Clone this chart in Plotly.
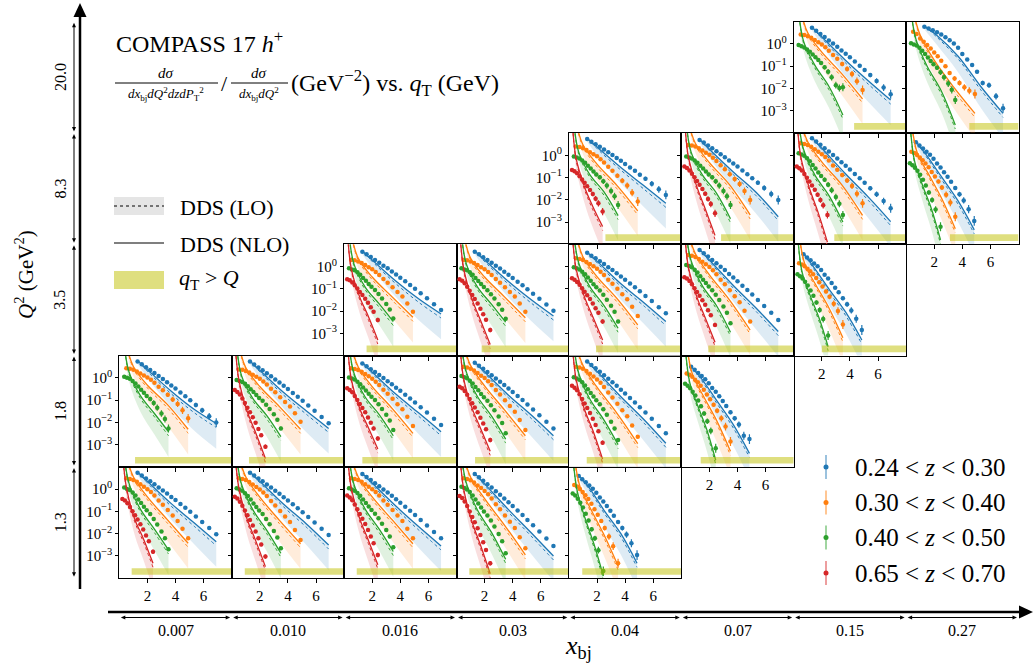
import plotly.graph_objects as go

FONT = "Liberation Serif, Times New Roman, serif"
W, H = 1034, 664

# ---------------- axis labels ----------------
Q2_LABELS = ["20.0", "8.3", "3.5", "1.8", "1.3"]
XBJ_LABELS = ["0.007", "0.010", "0.016", "0.03", "0.04", "0.07", "0.15", "0.27"]
Z_LABELS = ["0.24 < <i>z</i> < 0.30", "0.30 < <i>z</i> < 0.40",
            "0.40 < <i>z</i> < 0.50", "0.65 < <i>z</i> < 0.70"]

# ---------------- qT grids of the data points ----------------
QB = [1.3, 1.6, 1.9, 2.2, 2.5, 2.8, 3.1, 3.4, 3.7, 4.0, 4.35, 4.7, 5.05, 5.45, 5.9, 6.4, 6.9]
QO = [0.5, 0.75, 1.0, 1.25, 1.5, 1.75, 2.0, 2.25, 2.5, 2.8, 3.1, 3.45, 3.8, 4.15, 4.5, 4.9]
QG = [0.35, 0.55, 0.75, 0.95, 1.15, 1.35, 1.55, 1.75, 1.95, 2.2, 2.45, 2.7, 3.0, 3.25, 3.5]
QR = [0.22, 0.4, 0.58, 0.76, 0.94, 1.12, 1.3, 1.5, 1.7, 1.9, 2.1, 2.4]
QB2 = [0.7, 0.95, 1.2, 1.45, 1.7, 1.95, 2.2, 2.45, 2.7, 2.95, 3.2, 3.5, 3.8, 4.1, 4.45, 4.85]
QO2 = [0.38, 0.58, 0.78, 0.98, 1.18, 1.38, 1.6, 1.82, 2.05, 2.3, 2.55, 2.85, 3.15, 3.5]
QG2 = [0.27, 0.45, 0.63, 0.81, 1.0, 1.2, 1.4, 1.62, 1.85, 2.1, 2.45]

# qT knots of the theory curves
KB = [1.3, 2.2, 3.7, 5.3, 6.9]
KO = [0.5, 1.0, 2.0, 3.4, 4.9]
KG = [0.35, 0.7, 1.5, 2.5, 3.5]
KR = [0.22, 0.5, 1.1, 1.7, 2.4]
KB2 = [0.7, 1.4, 2.5, 3.7, 4.85]
KO2 = [0.38, 0.8, 1.6, 2.5, 3.5]
KG2 = [0.27, 0.6, 1.2, 1.8, 2.45]

# LO relative to NLO and LO band depth (log10 units, at knots)
LO_SHIFT = [0.0, 0.08, 0.12, 0.15, 0.18]
BAND_DEPTH = [0.15, 0.35, 0.6, 0.8, 0.95]

# error bars (log10 half widths)
ERR_B_TOP = [.02, .02, .02, .02, .02, .03, .03, .03, .04, .05, .06, .07, .08, .10, .12, .15, .20]
ERR_O_TOP = [.02, .02, .02, .02, .03, .03, .03, .04, .05, .06, .08, .10, .12, .14, .16, .20]
ERR_G_TOP = [.02, .02, .03, .03, .04, .05, .06, .07, .08, .10, .12, .14, .15, .16, .18]
ERR_R_TOP = [.02, .02, .03, .04, .05, .06, .07, .08, .10, .12, .14, .16]
ERR_B_LOW = [.01, .01, .01, .01, .01, .01, .01, .01, .02, .02, .02, .02, .03, .03, .04, .05, .06]
ERR_O_LOW = [.01, .01, .01, .01, .01, .01, .02, .02, .02, .02, .03, .03, .04, .05, .06, .07]
ERR_G_LOW = [.01, .01, .01, .01, .02, .02, .02, .02, .03, .03, .04, .05, .06, .07, .08]
ERR_R_LOW = [.01, .02, .02, .02, .03, .03, .04, .04, .05, .06, .08, .10]
ERR_B2 = [.02, .02, .02, .02, .02, .03, .03, .04, .05, .06, .07, .09, .11, .14, .18, .22]
ERR_O2 = [.02, .02, .02, .03, .03, .04, .05, .06, .07, .09, .11, .14, .17, .20]
ERR_G2 = [.02, .03, .03, .04, .05, .06, .08, .10, .12, .15, .20]

# ---------------- panels: log10 values ----------------
R4C0 = dict(qcut=0.88,
    b=[.74, .61, .48, .35, .22, .08, -.06, -.20, -.35, -.49, -.67, -.84, -1.02, -1.23, -1.47, -1.75, -2.03],
    o=[.49, .46, .41, .33, .22, .11, .00, -.13, -.29, -.51, -.70, -.94, -1.18, -1.43, -1.78, -2.21],
    g=[.07, .01, -.04, -.15, -.29, -.46, -.62, -.79, -.95, -1.12, -1.34, -1.59, -1.90, -2.20, -2.70],
    r=[-.44, -.51, -.63, -.80, -.99, -1.17, -1.36, -1.58, -1.81, -2.08, -2.34, -2.81],
    nb=[.77, .23, -.65, -1.5, -2.36], no=[1.5, .56, -.35, -1.36, -2.43],
    ng=[1.5, .25, -.9, -1.8, -2.73], nr=[1.8, .1, -1.35, -2.2, -3.33])
R4C1 = dict(qcut=0.93,
    b=[.74, .61, .48, .35, .21, .07, -.07, -.21, -.36, -.51, -.68, -.86, -1.04, -1.25, -1.50, -1.78, -2.06],
    o=[.49, .46, .41, .32, .21, .10, -.01, -.15, -.31, -.53, -.73, -.98, -1.23, -1.48, -1.84, -2.28],
    g=[.04, -.01, -.07, -.18, -.31, -.47, -.64, -.80, -.96, -1.12, -1.34, -1.58, -1.88, -2.17, -2.66],
    r=[-.34, -.42, -.56, -.74, -.96, -1.17, -1.39, -1.63, -1.90, -2.20, -2.49, -3.03],
    nb=[.77, .23, -.68, -1.55, -2.51], no=[1.5, .56, -.36, -1.4, -2.45],
    ng=[1.5, .22, -.92, -1.85, -2.88], nr=[1.8, .1, -1.35, -2.3, -3.48])
R4C2 = dict(qcut=0.9,
    b=[.68, .55, .41, .27, .13, -.01, -.15, -.30, -.45, -.61, -.79, -.97, -1.16, -1.38, -1.63, -1.92, -2.21],
    o=[.49, .46, .41, .33, .22, .11, .00, -.13, -.29, -.51, -.70, -.94, -1.18, -1.43, -1.78, -2.21],
    g=[.04, -.01, -.07, -.17, -.30, -.46, -.62, -.78, -.94, -1.10, -1.31, -1.55, -1.84, -2.13, -2.61],
    r=[-.29, -.37, -.50, -.69, -.90, -1.12, -1.33, -1.57, -1.84, -2.13, -2.43, -2.96],
    nb=[.71, .15, -.77, -1.68, -2.55], no=[1.5, .56, -.35, -1.36, -2.45],
    ng=[1.5, .22, -.9, -1.8, -2.8], nr=[1.8, .1, -1.3, -2.25, -3.4])
R4C3 = dict(qcut=0.91,
    b=[.68, .53, .38, .22, .07, -.09, -.25, -.42, -.59, -.76, -.96, -1.16, -1.38, -1.62, -1.90, -2.22, -2.55],
    o=[.49, .46, .40, .30, .17, .05, -.08, -.23, -.42, -.68, -.90, -1.18, -1.46, -1.75, -2.16, -2.66],
    g=[.11, .05, -.01, -.13, -.28, -.46, -.64, -.82, -1.00, -1.18, -1.41, -1.68, -2.01, -2.34, -2.88],
    r=[-.31, -.40, -.55, -.76, -1.00, -1.25, -1.49, -1.76, -2.06, -2.39, -2.73, -3.33],
    nb=[.71, .10, -.92, -1.95, -3.0], no=[1.5, .55, -.43, -1.6, -2.95],
    ng=[1.5, .28, -.95, -1.95, -3.15], nr=[1.8, .05, -1.45, -2.5, -3.8])
R4C4 = dict(qcut=0.95,
    b=[.59, .45, .31, .16, .02, -.16, -.37, -.55, -.76, -.97, -1.19, -1.47, -1.75, -2.04, -2.43, -2.96],
    o=[.19, .12, .01, -.13, -.27, -.44, -.65, -.90, -1.15, -1.43, -1.75, -2.13, -2.56, -3.33],
    g=[-.19, -.29, -.43, -.61, -.82, -1.10, -1.41, -1.80, -2.21, -2.74, -3.68],
    nb=[.62, .1, -.95, -2.0, -3.33], no=[1.5, .1, -.95, -2.05, -3.45],
    ng=[1.5, -.1, -1.4, -2.5, -3.9])
R3C0 = dict(qcut=1.12,
    b=[.74, .61, .48, .35, .22, .08, -.05, -.20, -.34, -.48, -.66, -.83, -1.01, -1.22, -1.46, -1.73, -2.01],
    o=[.43, .41, .36, .29, .20, .11, .02, -.09, -.22, -.40, -.56, -.76, -.97, -1.17, -1.46, -1.82],
    g=[.05, .00, -.04, -.14, -.25, -.39, -.53, -.67, -.81, -.95, -1.13, -1.34, -1.60, -1.85, -2.27],
    nb=[.77, .25, -.6, -1.4, -2.05], no=[1.5, .51, -.33, -1.18, -2.31],
    ng=[1.5, .25, -.8, -1.6, -2.42])
R3C1 = dict(qcut=1.23,
    b=[.73, .60, .47, .34, .21, .07, -.07, -.21, -.36, -.50, -.68, -.85, -1.03, -1.24, -1.48, -1.76, -2.04],
    o=[.38, .36, .31, .24, .14, .05, -.04, -.16, -.30, -.49, -.65, -.87, -1.08, -1.29, -1.59, -1.97],
    g=[-.10, -.14, -.19, -.27, -.38, -.51, -.64, -.77, -.90, -1.03, -1.21, -1.40, -1.64, -1.88, -2.27],
    r=[-.55, -.63, -.75, -.93, -1.13, -1.34, -1.54, -1.77, -2.02, -2.30, -2.58, -3.09],
    nb=[.76, .22, -.66, -1.48, -2.27], no=[1.5, .46, -.39, -1.29, -2.31],
    ng=[1.5, .1, -.92, -1.7, -2.64], nr=[1.8, -.05, -1.5, -2.45, -3.62])
R3C2 = dict(qcut=1.3,
    b=[.65, .52, .39, .26, .13, -.01, -.15, -.29, -.44, -.58, -.76, -.93, -1.11, -1.32, -1.56, -1.84, -2.12],
    o=[.43, .40, .35, .27, .17, .07, -.04, -.17, -.32, -.53, -.71, -.94, -1.18, -1.41, -1.75, -2.16],
    g=[.02, -.03, -.07, -.17, -.29, -.43, -.57, -.71, -.85, -.99, -1.18, -1.40, -1.66, -1.92, -2.34],
    r=[-.47, -.54, -.65, -.81, -.99, -1.17, -1.35, -1.55, -1.78, -2.02, -2.27, -2.72],
    nb=[.68, .14, -.74, -1.57, -2.42], no=[1.5, .5, -.39, -1.36, -2.49],
    ng=[1.5, .22, -.86, -1.65, -2.6], nr=[1.8, 0, -1.35, -2.2, -3.2])
R3C3 = dict(qcut=1.32,
    b=[.68, .54, .41, .26, .12, -.03, -.17, -.32, -.48, -.63, -.82, -1.00, -1.20, -1.42, -1.68, -1.97, -2.27],
    o=[.50, .47, .41, .33, .22, .10, -.01, -.15, -.32, -.55, -.75, -1.01, -1.26, -1.52, -1.89, -2.34],
    g=[.08, .03, -.02, -.13, -.25, -.41, -.56, -.72, -.87, -1.03, -1.23, -1.46, -1.74, -2.03, -2.49],
    r=[-.40, -.47, -.59, -.76, -.95, -1.14, -1.33, -1.55, -1.79, -2.05, -2.31, -2.79],
    nb=[.71, .14, -.78, -1.66, -2.6], no=[1.5, .56, -.36, -1.43, -2.6],
    ng=[1.5, .27, -.85, -1.72, -2.75], nr=[1.8, 0, -1.35, -2.25, -3.3])
R3C4 = dict(qcut=1.27,
    b=[.73, .58, .43, .28, .12, -.04, -.20, -.36, -.53, -.70, -.91, -1.11, -1.32, -1.56, -1.84, -2.16, -2.49],
    o=[.50, .47, .41, .31, .19, .06, -.07, -.22, -.41, -.66, -.88, -1.16, -1.45, -1.73, -2.14, -2.64],
    g=[.03, -.03, -.08, -.20, -.34, -.51, -.68, -.84, -1.01, -1.18, -1.41, -1.66, -1.97, -2.28, -2.79],
    r=[-.36, -.44, -.56, -.74, -.95, -1.15, -1.35, -1.58, -1.84, -2.12, -2.40, -2.91],
    nb=[.76, .16, -.85, -1.85, -2.94], no=[1.5, .56, -.42, -1.57, -2.95],
    ng=[1.5, .21, -.96, -1.9, -3.0], nr=[1.8, 0, -1.4, -2.35, -3.65])
R3C5 = dict(qcut=1.38,
    b=[.50, .36, .22, .08, -.06, -.24, -.45, -.62, -.83, -1.04, -1.26, -1.54, -1.82, -2.10, -2.60, -2.75],
    o=[.20, .14, .05, -.08, -.20, -.35, -.53, -.75, -.96, -1.21, -1.48, -1.82, -2.19, -2.86],
    g=[-.27, -.36, -.47, -.62, -.79, -1.02, -1.28, -1.60, -1.95, -2.38, -3.16],
    nb=[.53, .0, -1.0, -2.1, -3.39], no=[1.5, .15, -.85, -1.9, -3.3],
    ng=[1.5, -.2, -1.3, -2.3, -3.7])
R2C2 = dict(qcut=1.6,
    b=[.67, .55, .43, .30, .17, .04, -.08, -.22, -.36, -.50, -.66, -.83, -1.00, -1.20, -1.42, -1.69, -1.95],
    o=[.30, .28, .23, .16, .07, -.03, -.12, -.24, -.38, -.56, -.73, -.93, -1.14, -1.35, -1.66, -2.03],
    g=[-.08, -.13, -.17, -.26, -.37, -.51, -.64, -.78, -.91, -1.05, -1.23, -1.43, -1.68, -1.93, -2.33],
    r=[-.57, -.62, -.72, -.84, -.99, -1.14, -1.28, -1.45, -1.63, -1.83, -2.03, -2.40],
    nb=[.70, .18, -.66, -1.45, -2.13], no=[1.5, .38, -.47, -1.35, -2.28],
    ng=[1.5, .12, -.92, -1.68, -2.47], nr=[1.8, -.05, -1.35, -2.2, -3.3])
R2C3 = dict(qcut=1.79,
    b=[.67, .55, .42, .30, .17, .04, -.09, -.23, -.37, -.51, -.68, -.84, -1.02, -1.22, -1.45, -1.71, -1.98],
    o=[.30, .28, .23, .16, .07, -.03, -.12, -.24, -.38, -.56, -.73, -.93, -1.14, -1.35, -1.66, -2.03],
    g=[-.08, -.13, -.17, -.26, -.37, -.51, -.65, -.78, -.92, -1.06, -1.24, -1.44, -1.69, -1.94, -2.35],
    r=[-.57, -.64, -.75, -.91, -1.09, -1.28, -1.46, -1.66, -1.89, -2.14, -2.39, -2.85],
    nb=[.70, .18, -.67, -1.48, -2.22], no=[1.5, .38, -.47, -1.35, -2.3],
    ng=[1.5, .12, -.92, -1.7, -2.5], nr=[1.8, -.05, -1.45, -2.4, -3.5])
R2C4 = dict(qcut=1.93,
    b=[.62, .49, .37, .24, .11, -.03, -.16, -.30, -.45, -.59, -.76, -.93, -1.11, -1.32, -1.55, -1.83, -2.10],
    o=[.37, .34, .29, .21, .11, .01, -.10, -.23, -.38, -.59, -.77, -1.00, -1.24, -1.47, -1.81, -2.22],
    g=[-.03, -.08, -.13, -.23, -.35, -.49, -.64, -.79, -.93, -1.08, -1.27, -1.49, -1.76, -2.03, -2.47],
    r=[-.53, -.59, -.69, -.82, -.98, -1.13, -1.29, -1.46, -1.66, -1.87, -2.08, -2.47],
    nb=[.65, .12, -.77, -1.6, -2.47], no=[1.5, .44, -.45, -1.42, -2.62],
    ng=[1.5, .16, -.91, -1.75, -2.77], nr=[1.8, -.05, -1.35, -2.25, -3.3])
R2C5 = dict(qcut=1.92,
    b=[.74, .60, .45, .30, .15, -.01, -.16, -.33, -.49, -.66, -.86, -1.05, -1.26, -1.50, -1.77, -2.08, -2.40],
    o=[.52, .49, .43, .34, .22, .10, -.02, -.17, -.35, -.59, -.80, -1.06, -1.33, -1.60, -1.99, -2.47],
    g=[.07, .02, -.03, -.14, -.27, -.43, -.59, -.74, -.90, -1.06, -1.27, -1.50, -1.79, -2.08, -2.55],
    r=[-.48, -.54, -.65, -.80, -.97, -1.14, -1.31, -1.51, -1.72, -1.96, -2.19, -2.62],
    nb=[.77, .16, -.85, -1.85, -2.92], no=[1.5, .58, -.37, -1.47, -2.85],
    ng=[1.5, .26, -.87, -1.75, -2.95], nr=[1.8, 0, -1.35, -2.3, -3.4])
R2C6 = dict(qcut=2.0,
    b=[.55, .41, .28, .14, .01, -.16, -.37, -.54, -.74, -.95, -1.15, -1.42, -1.69, -1.97, -2.34, -2.85],
    o=[.15, .09, .01, -.10, -.21, -.35, -.51, -.70, -.90, -1.12, -1.36, -1.67, -2.00, -2.60],
    g=[-.35, -.43, -.54, -.68, -.85, -1.07, -1.31, -1.62, -1.95, -2.36, -3.10],
    nb=[.58, .0, -1.0, -2.05, -3.3], no=[1.5, .1, -.85, -1.85, -3.2],
    ng=[1.5, -.25, -1.35, -2.3, -3.6])
R1C4 = dict(qcut=2.6,
    b=[.73, .61, .50, .38, .26, .13, .01, -.12, -.25, -.39, -.55, -.70, -.87, -1.06, -1.28, -1.53, -1.78],
    o=[.39, .37, .32, .24, .14, .04, -.05, -.18, -.33, -.52, -.70, -.92, -1.14, -1.36, -1.68, -2.08],
    g=[-.06, -.10, -.15, -.23, -.34, -.47, -.60, -.73, -.86, -.99, -1.17, -1.36, -1.60, -1.84, -2.23],
    r=[-.66, -.72, -.81, -.94, -1.09, -1.24, -1.39, -1.56, -1.74, -1.95, -2.16, -2.53],
    nb=[.76, .26, -.55, -1.35, -2.16], no=[1.5, .47, -.40, -1.34, -2.5],
    ng=[1.5, .14, -.88, -1.65, -2.71], nr=[1.8, -.1, -1.4, -2.3, -3.2])
R1C5 = dict(qcut=2.83,
    b=[.69, .57, .44, .31, .18, .04, -.09, -.23, -.37, -.51, -.68, -.85, -1.03, -1.23, -1.47, -1.74, -2.01],
    o=[.46, .44, .39, .31, .21, .11, .02, -.11, -.26, -.45, -.63, -.85, -1.07, -1.29, -1.61, -2.01],
    g=[-.06, -.10, -.15, -.23, -.34, -.47, -.60, -.73, -.86, -.99, -1.17, -1.36, -1.60, -1.84, -2.23],
    r=[-.51, -.57, -.68, -.83, -.99, -1.16, -1.33, -1.52, -1.73, -1.96, -2.19, -2.61],
    nb=[.72, .15, -.75, -1.65, -2.76], no=[1.5, .54, -.33, -1.3, -2.68],
    ng=[1.5, .14, -.88, -1.7, -2.85], nr=[1.8, -.05, -1.4, -2.4, -3.6])
R1C6 = dict(qcut=2.89,
    b=[.76, .62, .47, .32, .17, .01, -.14, -.31, -.47, -.64, -.84, -1.03, -1.24, -1.48, -1.75, -2.06, -2.38],
    o=[.54, .51, .46, .38, .27, .16, .05, -.08, -.24, -.46, -.65, -.89, -1.13, -1.38, -1.73, -2.16],
    g=[.09, .03, -.02, -.13, -.27, -.44, -.60, -.77, -.93, -1.10, -1.32, -1.57, -1.88, -2.18, -2.68],
    r=[-.51, -.58, -.68, -.84, -1.01, -1.18, -1.36, -1.55, -1.77, -2.01, -2.25, -2.68],
    nb=[.79, .18, -.84, -1.87, -2.98], no=[1.5, .61, -.30, -1.31, -2.7],
    ng=[1.5, .27, -.88, -1.8, -3.0], nr=[1.8, -.05, -1.45, -2.5, -3.9])
R1C7 = dict(qcut=3.12,
    b=[.58, .44, .30, .16, .02, -.16, -.37, -.55, -.76, -.97, -1.19, -1.47, -1.75, -2.03, -2.42, -2.95],
    o=[.16, .10, .01, -.10, -.22, -.37, -.54, -.75, -.95, -1.18, -1.45, -1.77, -2.12, -2.76],
    g=[-.36, -.45, -.56, -.70, -.87, -1.10, -1.36, -1.67, -2.01, -2.44, -3.21],
    nb=[.61, .05, -.95, -2.05, -3.35], no=[1.5, .1, -.85, -1.9, -3.3],
    ng=[1.5, -.25, -1.4, -2.4, -3.8])
R0C6 = dict(qcut=4.3,
    b=[.73, .59, .45, .31, .16, .02, -.13, -.29, -.44, -.60, -.79, -.98, -1.17, -1.40, -1.66, -1.96, -2.26],
    o=[.43, .40, .35, .28, .18, .08, -.02, -.15, -.30, -.50, -.67, -.90, -1.12, -1.35, -1.67, -2.07],
    g=[-.05, -.10, -.16, -.25, -.35, -.47, -.60, -.72, -.85, -1.05, -1.25, -1.50, -1.85, -1.98, -1.95],
    nb=[.76, .19, -.74, -1.65, -2.52], no=[1.5, .5, -.37, -1.32, -2.47],
    ng=[1.5, .13, -.95, -1.9, -3.19])
R0C7 = dict(qcut=4.5,
    b=[.77, .70, .62, .53, .43, .30, .17, .02, -.17, -.45, -.70, -.95, -1.25, -1.75, -1.85, -2.35, -2.89],
    o=[.55, .45, .25, .10, -.05, -.20, -.38, -.55, -.75, -1.0, -1.3, -1.55, -1.75, -1.95, -2.10, -2.25],
    g=[.03, -.02, -.07, -.17, -.30, -.45, -.61, -.76, -.91, -1.07, -1.27, -1.50, -1.78, -2.06, -2.52],
    nb=[.8, .38, -.55, -1.9, -3.12], no=[1.5, .4, -.73, -1.95, -3.12],
    ng=[1.5, .22, -1.0, -2.1, -3.64])

# (Q2 bin, x_bj bin, grid type, error type, data)
PANELS = [
    ("1.3", "0.007", "A", "low", R4C0), ("1.3", "0.010", "A", "low", R4C1),
    ("1.3", "0.016", "A", "low", R4C2), ("1.3", "0.03", "A", "low", R4C3),
    ("1.3", "0.04", "B", "b2", R4C4),
    ("1.8", "0.007", "A", "top", R3C0), ("1.8", "0.010", "A", "low", R3C1),
    ("1.8", "0.016", "A", "low", R3C2), ("1.8", "0.03", "A", "low", R3C3),
    ("1.8", "0.04", "A", "low", R3C4), ("1.8", "0.07", "B", "b2", R3C5),
    ("3.5", "0.016", "A", "low", R2C2), ("3.5", "0.03", "A", "low", R2C3),
    ("3.5", "0.04", "A", "low", R2C4), ("3.5", "0.07", "A", "low", R2C5),
    ("3.5", "0.15", "B", "b2", R2C6),
    ("8.3", "0.04", "A", "top", R1C4), ("8.3", "0.07", "A", "top", R1C5),
    ("8.3", "0.15", "A", "top", R1C6), ("8.3", "0.27", "B", "b2", R1C7),
    ("20.0", "0.15", "A", "top", R0C6), ("20.0", "0.27", "A", "top", R0C7),
]

GRIDS = {"A": {"b": (QB, KB), "o": (QO, KO), "g": (QG, KG), "r": (QR, KR)},
         "B": {"b": (QB2, KB2), "o": (QO2, KO2), "g": (QG2, KG2)}}
ERRS = {"top": {"b": ERR_B_TOP, "o": ERR_O_TOP, "g": ERR_G_TOP, "r": ERR_R_TOP},
        "low": {"b": ERR_B_LOW, "o": ERR_O_LOW, "g": ERR_G_LOW, "r": ERR_R_LOW},
        "b2": {"b": ERR_B2, "o": ERR_O2, "g": ERR_G2}}

# ---------------- styling ----------------
COLORS = {"b": (31, 119, 180), "o": (255, 127, 14), "g": (44, 160, 44), "r": (214, 39, 40)}
BAR_LOG = (-3.85, -3.55)
BAR_COLOR = "rgba(191,191,0,0.5)"
L0, PW = 119.3, 112.4
T0, PH = 21.7, 111.3


def rgba(c, a):
    return f"rgba({c[0]},{c[1]},{c[2]},{a})"


def PX(x):
    return x / W


def PY(y):
    return 1 - y / H


def lin(v):
    return [10 ** a for a in v]


fig = go.Figure()
layout_axes = {}

rows_of = {}
for q2, xb, _, _, _ in PANELS:
    rows_of.setdefault(xb, []).append(Q2_LABELS.index(q2))
cols_of = {}
for q2, xb, _, _, _ in PANELS:
    cols_of.setdefault(q2, []).append(XBJ_LABELS.index(xb))

tickfont = dict(family=FONT, size=15, color="black")

for i, (q2, xb, gtype, etype, P) in enumerate(PANELS):
    n = i + 1
    r = Q2_LABELS.index(q2)
    c = XBJ_LABELS.index(xb)
    sfx = "" if n == 1 else str(n)
    xa, ya = "x" + sfx, "y" + sfx
    left = L0 + c * PW
    top = T0 + r * PH
    bottom_panel = r == max(rows_of[xb])
    left_panel = c == min(cols_of[q2])
    layout_axes["xaxis" + sfx] = dict(
        domain=[PX(left), PX(left + PW)], range=[0, 8], anchor=ya,
        tickvals=[2, 4, 6], ticks="outside", ticklen=4, tickwidth=1, tickcolor="black",
        showticklabels=bottom_panel, tickfont=tickfont, showline=True, mirror=True,
        linecolor="black", linewidth=1, showgrid=False, zeroline=False)
    layout_axes["yaxis" + sfx] = dict(
        domain=[PY(top + PH), PY(top)], type="log", range=[-4, 1], anchor=xa,
        tickvals=[1, 0.1, 0.01, 0.001],
        ticktext=["10<sup>0</sup>", "10<sup>−1</sup>", "10<sup>−2</sup>", "10<sup>−3</sup>"],
        ticks="outside", ticklen=3, tickwidth=1, tickcolor="black",
        showticklabels=left_panel, tickfont=tickfont, showline=True, mirror=True,
        linecolor="black", linewidth=1, showgrid=False, zeroline=False)

    for key in ["b", "o", "g", "r"]:
        if key not in P:
            continue
        col = COLORS[key]
        qgrid, knots = GRIDS[gtype][key]
        nlo = P["n" + key]
        lo = [a - s for a, s in zip(nlo, LO_SHIFT)]
        band_lo = [a - d for a, d in zip(lo, BAND_DEPTH)]
        # band
        fig.add_trace(go.Scatter(x=knots, y=lin(band_lo), mode="lines", xaxis=xa, yaxis=ya,
                                 line=dict(width=0, shape="spline", color=rgba(col, 0)),
                                 hoverinfo="skip"))
        fig.add_trace(go.Scatter(x=knots, y=lin(nlo), mode="lines", xaxis=xa, yaxis=ya,
                                 line=dict(width=0, shape="spline", color=rgba(col, 0)),
                                 fill="tonexty", fillcolor=rgba(col, 0.15), hoverinfo="skip"))
        # LO dotted and NLO solid
        fig.add_trace(go.Scatter(x=knots, y=lin(lo), mode="lines", xaxis=xa, yaxis=ya,
                                 line=dict(width=1, shape="spline", color=rgba(col, 1), dash="dot"),
                                 hoverinfo="skip"))
        fig.add_trace(go.Scatter(x=knots, y=lin(nlo), mode="lines", xaxis=xa, yaxis=ya,
                                 line=dict(width=1.3, shape="spline", color=rgba(col, 1)),
                                 hoverinfo="skip"))
        # data
        vals = P[key]
        m = min(len(vals), len(qgrid))
        errs = ERRS[etype][key]
        ys = lin(vals[:m])
        up = [10 ** (v + e) - 10 ** v for v, e in zip(vals[:m], errs)]
        dn = [10 ** v - 10 ** (v - e) for v, e in zip(vals[:m], errs)]
        fig.add_trace(go.Scatter(x=qgrid[:m], y=ys, mode="markers", xaxis=xa, yaxis=ya,
                                 marker=dict(size=4.5, color=rgba(col, 1)),
                                 error_y=dict(type="data", symmetric=False, array=up, arrayminus=dn,
                                              thickness=1.2, width=0, color=rgba(col, 1)),
                                 hoverinfo="skip"))
    # q_T > Q bar
    qc = P["qcut"]
    fig.add_trace(go.Scatter(x=[qc, 8, 8, qc, qc],
                             y=lin([BAR_LOG[0], BAR_LOG[0], BAR_LOG[1], BAR_LOG[1], BAR_LOG[0]]),
                             mode="lines", fill="toself", fillcolor=BAR_COLOR,
                             line=dict(width=0, color=BAR_COLOR), xaxis=xa, yaxis=ya,
                             hoverinfo="skip"))

# ---------------- decorations ----------------
shapes = []
annotations = []


def line(x0, y0, x1, y1, w=1.0, color="black", dash=None):
    d = dict(type="line", xref="paper", yref="paper", x0=PX(x0), y0=PY(y0),
             x1=PX(x1), y1=PY(y1), line=dict(color=color, width=w))
    if dash:
        d["line"]["dash"] = dash
    shapes.append(d)


def poly(pts, color="black"):
    path = "M " + " L ".join(f"{PX(x):.5f},{PY(y):.5f}" for x, y in pts) + " Z"
    shapes.append(dict(type="path", xref="paper", yref="paper", path=path,
                       fillcolor=color, line=dict(width=0)))


def rect(x0, y0, x1, y1, fill):
    shapes.append(dict(type="rect", xref="paper", yref="paper", x0=PX(x0), x1=PX(x1),
                       y0=PY(y1), y1=PY(y0), fillcolor=fill, line=dict(width=0)))


def text(x, y, s, size, xanchor="center", angle=0):
    annotations.append(dict(x=PX(x), y=PY(y), xref="paper", yref="paper", text=s,
                            showarrow=False, xanchor=xanchor, yanchor="middle",
                            textangle=angle, font=dict(family=FONT, size=size, color="black")))


# vertical Q2 axis
line(80, 589, 80, 14, w=2.5)
poly([(80, 3), (73.5, 17), (86.5, 17)])
for r, lab in enumerate(Q2_LABELS):
    y0 = T0 + r * PH + 1
    y1 = T0 + (r + 1) * PH - 1.5
    line(74, y0 + 2, 74, y1 - 2, w=1)
    poly([(74, y0), (72, y0 + 4.5), (76, y0 + 4.5)])
    poly([(74, y1), (72, y1 - 4.5), (76, y1 - 4.5)])
    text(60, (y0 + y1) / 2, lab, 16, angle=-90)
text(24, 275, "<i>Q</i><sup>2</sup> (GeV<sup>2</sup>)", 21, angle=-90)

# horizontal x_bj axis
line(108, 612, 1022, 612, w=2.5)
poly([(1033, 612), (1019, 605.5), (1019, 618.5)])
for c, lab in enumerate(XBJ_LABELS):
    x0 = L0 + c * PW + 1.5
    x1 = L0 + (c + 1) * PW - 1.5
    line(x0 + 2, 617.5, x1 - 2, 617.5, w=1)
    poly([(x0, 617.5), (x0 + 4.5, 615.5), (x0 + 4.5, 619.5)])
    poly([(x1, 617.5), (x1 - 4.5, 615.5), (x1 - 4.5, 619.5)])
    text((x0 + x1) / 2, 630, lab, 16)
text(578, 647, "<i>x</i><sub>bj</sub>", 26)

# title and formula
text(114, 42, "COMPASS 17 <i>h</i><sup>+</sup>", 24, xanchor="left")
text(166, 73, "<i>dσ</i>", 15)
line(115, 83, 218, 83, w=1)
text(166, 94, "<i>dx</i><sub>bj</sub><i>dQ</i><sup>2</sup><i>dzdP</i><sub>T</sub><sup>2</sup>", 13)
text(224, 83, "/", 22)
text(259, 73, "<i>dσ</i>", 15)
line(231, 83, 288, 83, w=1)
text(259, 94, "<i>dx</i><sub>bj</sub><i>dQ</i><sup>2</sup>", 13)
text(289, 83, "(GeV<sup>−2</sup>) vs. <i>q</i><sub>T</sub> (GeV)", 24, xanchor="left")

# theory legend
rect(114, 197, 164, 215, "#e5e5e5")
line(114, 206, 164, 206, w=1, dash="dot")
text(178, 207, "DDS (LO)", 22, xanchor="left")
line(114, 243, 164, 243, w=1.2)
text(178, 244, "DDS (NLO)", 22, xanchor="left")
rect(114, 271, 164, 289, BAR_COLOR)
text(177, 279, "<i>q</i><sub>T</sub> > <i>Q</i>", 22, xanchor="left")

# z legend
for k, (key, lab) in enumerate(zip(["b", "o", "g", "r"], Z_LABELS)):
    yc = [467, 502.5, 537.5, 573][k]
    col = COLORS[key]
    line(826, yc - 12, 826, yc + 12, w=1.5, color=rgba(col, 0.6))
    shapes.append(dict(type="circle", xref="paper", yref="paper",
                       x0=PX(823.5), x1=PX(828.5), y0=PY(yc + 2.5), y1=PY(yc - 2.5),
                       fillcolor=rgba(col, 1), line=dict(width=0)))
    text(853, yc, lab, 25, xanchor="left")

fig.update_layout(width=W, height=H, margin=dict(l=0, r=0, t=0, b=0),
                  paper_bgcolor="white", plot_bgcolor="white", showlegend=False,
                  font=dict(family=FONT, color="black"),
                  shapes=shapes, annotations=annotations, **layout_axes)

fig.write_html("out.html")
